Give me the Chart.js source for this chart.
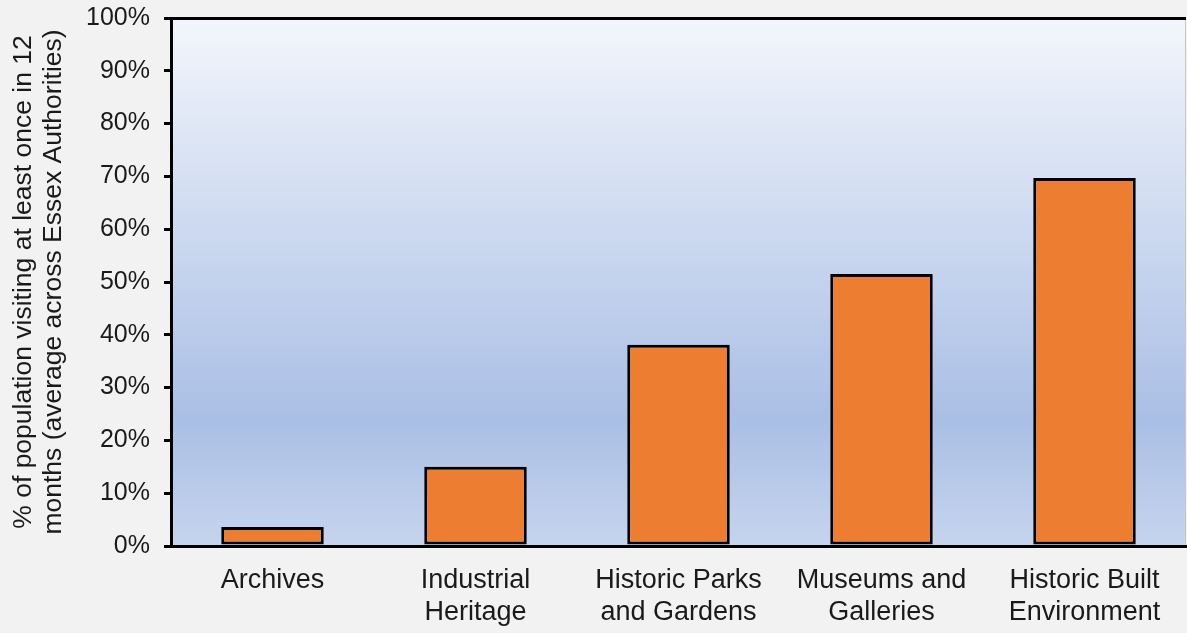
<!DOCTYPE html>
<html>
<head>
<meta charset="utf-8">
<script src="https://cdn.jsdelivr.net/npm/chart.js@4/dist/chart.umd.min.js"></script>
<style>
  html, body { margin: 0; padding: 0; background: #f2f2f2; }
  #wrap { width: 1187px; height: 633px; }
</style>
</head>
<body>
<div id="wrap"><canvas id="c" width="1187" height="633"></canvas></div>
<script>
const categories = [
  ["Archives"],
  ["Industrial", "Heritage"],
  ["Historic Parks", "and Gardens"],
  ["Museums and", "Galleries"],
  ["Historic Built", "Environment"]
];
const visitShare = [3.6, 15.0, 38.1, 51.5, 69.7];
const yTitle = ["% of population visiting at least once in 12", "months (average across Essex Authorities)"];

const FONT = "'Liberation Sans', Arial, sans-serif";
const TEXT = "#1a1a1a";

const bgPlugin = {
  id: "plotBg",
  beforeDraw(chart) {
    const { ctx, chartArea: a } = chart;
    const g = ctx.createLinearGradient(0, a.top, 0, a.bottom);
    g.addColorStop(0, "#f3f6fc");
    g.addColorStop(0.76, "#aabfe5");
    g.addColorStop(1, "#c6d4ee");
    ctx.save();
    ctx.fillStyle = g;
    ctx.fillRect(a.left, a.top, a.right - a.left, a.bottom - a.top);
    ctx.strokeStyle = "#c8c8c8";
    ctx.lineWidth = 1;
    ctx.beginPath();
    ctx.moveTo(a.right - 0.5, a.top);
    ctx.lineTo(a.right - 0.5, a.bottom);
    ctx.stroke();
    ctx.restore();
  }
};

new Chart(document.getElementById("c"), {
  type: "bar",
  data: {
    labels: categories,
    datasets: [{
      data: visitShare,
      backgroundColor: "#ed7d31",
      borderColor: "#000000",
      borderWidth: 3,
      borderSkipped: false,
      barPercentage: 0.505,
      categoryPercentage: 1.0
    }]
  },
  options: {
    responsive: false,
    animation: false,
    layout: { padding: { left: 0, right: 1, top: 18, bottom: 0 } },
    plugins: { legend: { display: false }, tooltip: { enabled: false } },
    scales: {
      x: {
        grid: { display: false },
        border: { display: true, color: "#000", width: 3 },
        ticks: {
          color: TEXT, font: { family: FONT, size: 27, lineHeight: 1.2 }, padding: 10,
          maxRotation: 0, autoSkip: false
        },
        afterFit(scale) { scale.height = 633 - 546; }
      },
      y: {
        min: 0, max: 100,
        grid: {
          drawOnChartArea: true,
          color: (c) => (c.tick && c.tick.value === 100 ? "#000" : "rgba(0,0,0,0)"),
          tickColor: "#000",
          tickLength: 7,
          lineWidth: 3,
          tickWidth: 3
        },
        border: { display: true, color: "#000", width: 3 },
        ticks: {
          stepSize: 10, color: TEXT, font: { family: FONT, size: 25 }, padding: 14,
          callback: (v) => v + "%"
        },
        title: {
          display: true, text: yTitle, color: TEXT,
          font: { family: FONT, size: 26.5, lineHeight: 1.13 },
          padding: { top: 9, bottom: 0 }
        },
        afterFit(scale) {
          scale.width = 171;
          scale.paddingTop = 0;
          scale.paddingBottom = 0;
        }
      }
    }
  },
  plugins: [bgPlugin]
});
</script>
</body>
</html>
